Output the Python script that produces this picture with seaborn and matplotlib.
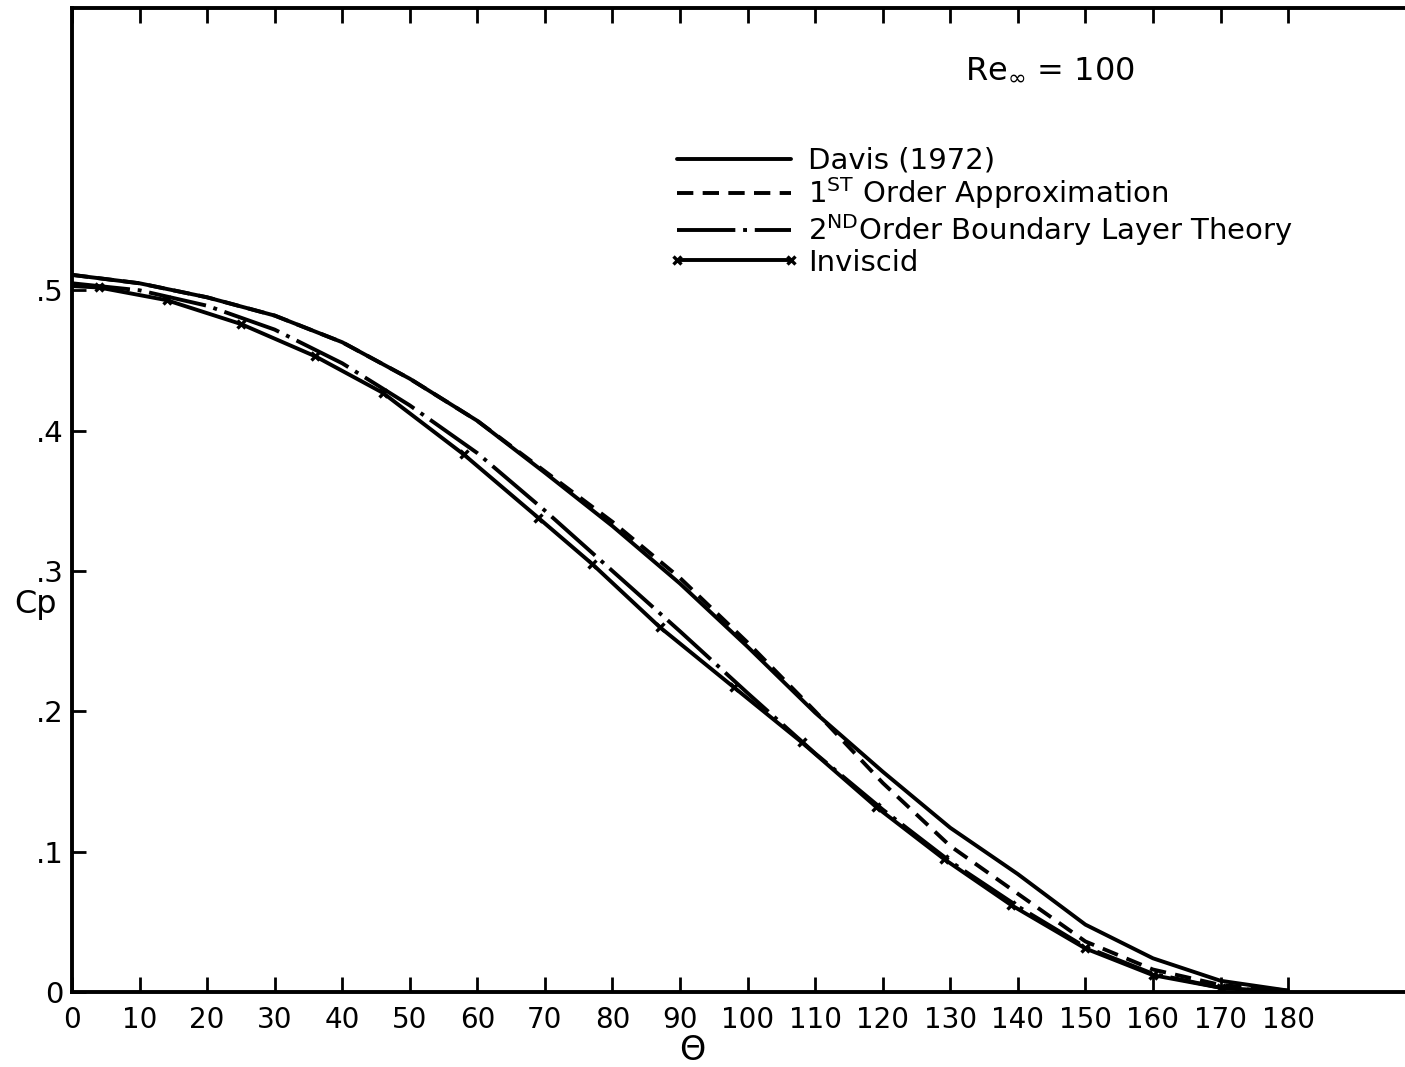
import numpy as np
import pandas as pd
import matplotlib
matplotlib.use("Agg")
import matplotlib.pyplot as plt
import seaborn as sns

# ---- data ----
theta = [0, 10, 20, 30, 40, 50, 60, 70, 80, 90, 100, 110, 120, 130, 140, 150, 160, 170, 180]
cp_davis = [0.511, 0.505, 0.495, 0.482, 0.463, 0.437, 0.407, 0.370, 0.332, 0.291, 0.246,
            0.199, 0.157, 0.117, 0.084, 0.048, 0.024, 0.008, 0.001]
cp_first = [0.511, 0.505, 0.495, 0.482, 0.463, 0.437, 0.407, 0.371, 0.335, 0.295, 0.249,
            0.200, 0.149, 0.104, 0.070, 0.036, 0.016, 0.005, 0.001]
cp_second = [0.505, 0.500, 0.489, 0.472, 0.448, 0.418, 0.384, 0.343, 0.300, 0.257, 0.213,
             0.170, 0.130, 0.093, 0.061, 0.032, 0.013, 0.003, 0.000]
theta_inv = [0, 4, 14, 25, 36, 46, 58, 69, 77, 87, 98, 108, 119, 129, 139, 150, 160, 170, 180]
cp_inv = [0.503, 0.502, 0.493, 0.476, 0.453, 0.427, 0.383, 0.338, 0.305, 0.260, 0.217,
          0.178, 0.132, 0.095, 0.062, 0.031, 0.012, 0.003, 0.000]

xticks = list(range(0, 181, 10))
yticks = [0, 0.1, 0.2, 0.3, 0.4, 0.5]
ytick_labels = ["0", ".1", ".2", ".3", ".4", ".5"]

sns.set_style("ticks")
plt.rcParams["font.family"] = ["DejaVu Sans"]
plt.rcParams["text.color"] = "black"
plt.rcParams["axes.labelcolor"] = "black"
plt.rcParams["xtick.color"] = "black"
plt.rcParams["ytick.color"] = "black"

fig = plt.figure(figsize=(14.05, 10.67), dpi=100)
ax = fig.add_axes([0.0512, 0.0703, 0.9488, 0.922])

lw = 2.8
sns.lineplot(x=theta, y=cp_davis, ax=ax, color="black", lw=lw, label="Davis (1972)")
sns.lineplot(x=theta, y=cp_first, ax=ax, color="black", lw=lw,
             label=r"1$^{\mathrm{ST}}$ Order Approximation")
ax.lines[-1].set_dashes((4.2, 2.4))
sns.lineplot(x=theta, y=cp_second, ax=ax, color="black", lw=lw,
             label=r"2$^{\mathrm{ND}}$Order Boundary Layer Theory")
ax.lines[-1].set_dashes((15, 2.0, 1, 2.0))
sns.lineplot(x=theta_inv, y=cp_inv, ax=ax, color="black", lw=lw, marker="x",
             markersize=6, markeredgewidth=2.4, markeredgecolor="black",
             markerfacecolor="black", markevery=slice(1, -1),
             label="Inviscid")

ax.set_xlim(0, 197.3)
ax.set_ylim(0, 0.701)
ax.set_xticks(xticks)
ax.set_xticklabels([str(t) for t in xticks], fontsize=20)
ax.set_yticks(yticks)
ax.set_yticklabels(ytick_labels, fontsize=21)
ax.set_xlabel("")
ax.set_ylabel("")

for side in ["top", "left", "bottom"]:
    ax.spines[side].set_linewidth(2.8)
    ax.spines[side].set_color("black")
ax.spines["right"].set_visible(False)

ax.tick_params(axis="x", which="both", direction="in", length=11, width=2,
               top=True, bottom=True, pad=10, colors="black")
ax.tick_params(axis="y", which="both", direction="in", length=10, width=2,
               left=True, right=False, pad=6, colors="black")

leg = ax.legend(loc="upper left", bbox_to_anchor=(668 / 1405, 1 - 147 / 1067),
                bbox_transform=fig.transFigure, frameon=False, fontsize=21,
                handlelength=4.5, handletextpad=0.3, labelspacing=0.02,
                borderpad=0, borderaxespad=0, numpoints=2)
for t in leg.get_texts():
    t.set_color("black")

fig.text(1050 / 1405, 1 - 70 / 1067, r"Re$_{\infty}$ = 100", fontsize=23,
         ha="center", va="center", color="black")
fig.text(36 / 1405, 1 - 605 / 1067, "Cp", fontsize=23, ha="center", va="center",
         color="black")
fig.text(692 / 1405, 1 - 1050 / 1067, "Θ", fontsize=24, ha="center", va="center",
         color="black")

fig.savefig("out.png", dpi=100, facecolor="white")
